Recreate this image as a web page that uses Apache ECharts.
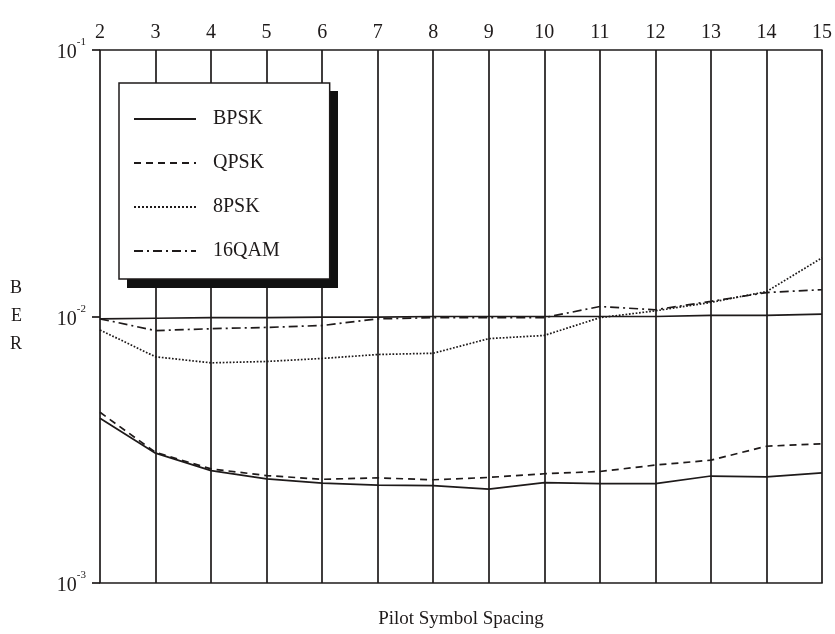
<!DOCTYPE html>
<html><head><meta charset="utf-8">
<script src="https://cdn.jsdelivr.net/npm/echarts@6/dist/echarts.min.js"></script>
<style>html,body{margin:0;padding:0;background:#fff}#c{width:835px;height:634px}</style>
</head><body><div id="c"></div>
<script>
const spacing = [2,3,4,5,6,7,8,9,10,11,12,13,14,15];
const bpsk   = [4.15e-3,3.07e-3,2.64e-3,2.46e-3,2.37e-3,2.33e-3,2.32e-3,2.25e-3,2.38e-3,2.36e-3,2.36e-3,2.52e-3,2.5e-3,2.59e-3];
const qpsk   = [4.37e-3,3.09e-3,2.68e-3,2.53e-3,2.45e-3,2.48e-3,2.44e-3,2.49e-3,2.57e-3,2.62e-3,2.77e-3,2.89e-3,3.26e-3,3.33e-3];
const psk8   = [8.9e-3,7.06e-3,6.7e-3,6.78e-3,6.96e-3,7.2e-3,7.28e-3,8.26e-3,8.49e-3,9.9e-3,1.05e-2,1.13e-2,1.24e-2,1.66e-2];
const qam16  = [9.8e-3,8.85e-3,9.0e-3,9.1e-3,9.25e-3,9.8e-3,9.9e-3,9.9e-3,9.9e-3,1.09e-2,1.06e-2,1.14e-2,1.23e-2,1.26e-2];
const refLine = [9.8e-3,9.85e-3,9.9e-3,9.9e-3,9.95e-3,9.95e-3,1.0e-2,1.0e-2,1.0e-2,1.0e-2,1.0e-2,1.01e-2,1.01e-2,1.02e-2];
const yTickLabels = {'0.1':'-1','0.01':'-2','0.001':'-3'};
const legendNames = ['BPSK','QPSK','8PSK','16QAM'];

const ink = '#1e1a1a';
const serif = '"Liberation Serif","DejaVu Serif",serif';
const pts = arr => spacing.map((x,i)=>[x,arr[i]]);
function line(name, data, type){
  return {name, type:'line', data:pts(data), symbol:'none', silent:true,
    lineStyle:{color:ink, width:1.7, type}, itemStyle:{color:'rgba(0,0,0,0)', borderWidth:0}};
}
const chart = echarts.init(document.getElementById('c'));
chart.setOption({
  animation:false,
  backgroundColor:'#fff',
  grid:{left:100, right:2, top:50, bottom:41},
  graphic:[{type:'rect', z:50, silent:true, shape:{x:127, y:91, width:211, height:197}, style:{fill:'#111'}}],
  xAxis:[{
    type:'value', position:'top', min:2, max:15, interval:1,
    axisLine:{show:true, lineStyle:{color:ink, width:1.7}},
    axisTick:{show:false},
    axisLabel:{color:ink, fontFamily:serif, fontSize:20, margin:7, showMaxLabel:true, showMinLabel:true},
    splitLine:{show:true, lineStyle:{color:ink, width:1.7}}
  },{
    type:'value', position:'bottom', min:2, max:15, interval:1,
    axisLine:{show:true, lineStyle:{color:ink, width:1.7}},
    axisTick:{show:false}, axisLabel:{show:false}, splitLine:{show:false},
    name:'Pilot Symbol Spacing', nameLocation:'middle', nameGap:27,
    nameTextStyle:{color:ink, fontFamily:serif, fontSize:19}
  }],
  yAxis:{
    type:'log', min:0.001, max:0.1, logBase:10,
    axisLine:{show:false},
    axisTick:{show:true, inside:false, length:8, lineStyle:{color:ink, width:1.7}},
    splitLine:{show:false},
    axisLabel:{color:ink, margin:14, fontFamily:serif,
      formatter: v => { const k = (+v).toPrecision(1); const e = yTickLabels[String(+k)]; return e ? '{b|10}{s|'+e+'}' : ''; },
      rich:{b:{fontFamily:serif, fontSize:20, color:ink, padding:[6,0,0,0]}, s:{fontFamily:serif, fontSize:11, color:ink, verticalAlign:'top', padding:[0,0,8,0]}}
    },
    name:'B\nE\nR', nameLocation:'middle', nameRotate:0, nameGap:78,
    nameTextStyle:{color:ink, fontFamily:serif, fontSize:18, lineHeight:28}
  },
  legend:{
    data:legendNames, orient:'vertical', left:119, top:83, z:60,
    backgroundColor:'#fff', borderColor:ink, borderWidth:1.5,
    padding:[26,50,18,14], itemWidth:62, itemHeight:20, itemGap:24,
    selectedMode:false,
    itemStyle:{color:'rgba(0,0,0,0)', borderWidth:0, borderColor:'rgba(0,0,0,0)'},
    textStyle:{color:ink, fontFamily:serif, fontSize:20, padding:[0,0,0,12]}
  },
  series:[
    line('BPSK', bpsk, 'solid'),
    line('QPSK', qpsk, [7,5]),
    line('8PSK', psk8, 'dotted'),
    line('16QAM', qam16, [9,4,2,4]),
    line('ref', refLine, 'solid')
  ]
});
</script></body></html>
